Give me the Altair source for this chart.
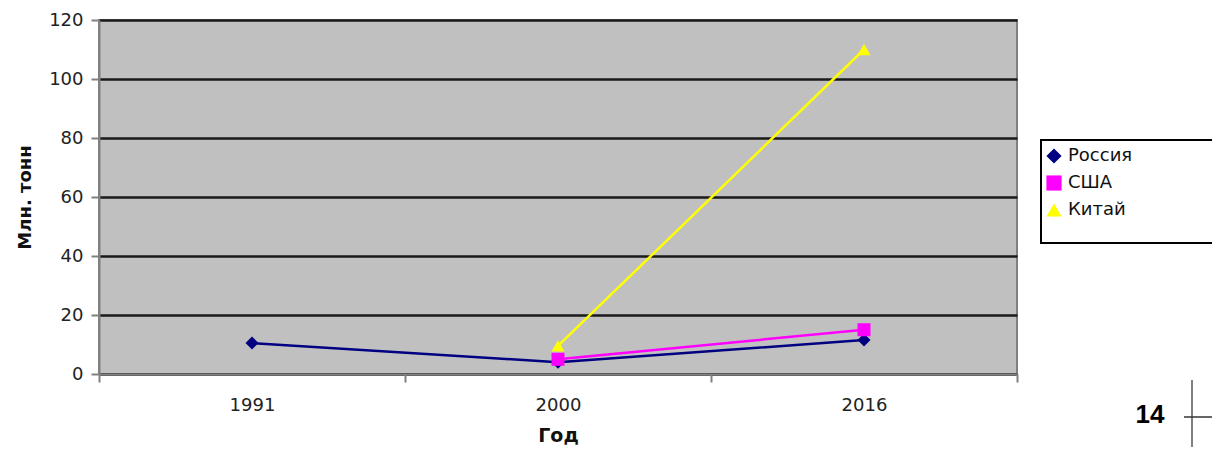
import altair as alt
import pandas as pd

years = ["1991", "2000", "2016"]
countries = ["Россия", "США", "Китай"]
russia = [10.5, 4.0, 11.5]
usa = [None, 5.0, 15.0]
china = [None, 9.5, 110.0]
colors = ["#000080", "#FF00FF", "#FFFF00"]
shapes = ["diamond", "square", "triangle-up"]
y_ticks = [0, 20, 40, 60, 80, 100, 120]

rows = []
for name, vals in zip(countries, [russia, usa, china]):
    for yr, v in zip(years, vals):
        if v is not None:
            rows.append({"Год": yr, "Страна": name, "Значение": v})
df = pd.DataFrame(rows)

FONT = "DejaVu Sans"
W, H = 918, 354

x_enc = alt.X("Год:O", sort=years,
              scale=alt.Scale(domain=years, type="band", paddingInner=0, paddingOuter=0),
              axis=alt.Axis(title="Год", labelAngle=0, tickBand="extent", domainColor="#808080",
                            domainWidth=2, tickColor="#808080", tickWidth=2, tickSize=8,
                            labelFontSize=18, labelColor="#222222", labelPadding=14, labelFont=FONT,
                            titleFont=FONT, titleFontSize=19, titleFontWeight="bold",
                            titleColor="#111111", titlePadding=12, grid=False))
y_enc = alt.Y("Значение:Q",
              scale=alt.Scale(domain=[0, 120], nice=False),
              axis=alt.Axis(title="Млн. тонн", values=y_ticks, domainColor="#808080", domainWidth=2,
                            tickColor="#808080", tickWidth=2, tickSize=8,
                            labelFontSize=18, labelColor="#222222", labelPadding=8, labelFont=FONT,
                            titleFont=FONT, titleFontSize=18, titleFontWeight="bold",
                            titleColor="#111111", titlePadding=14,
                            grid=True, gridColor="#1a1a1a", gridWidth=2.5))
color_enc = alt.Color("Страна:N", sort=countries,
                      scale=alt.Scale(domain=countries, range=colors),
                      legend=alt.Legend(title=None, orient="none", legendX=946, legendY=127,
                                        labelFont=FONT, labelFontSize=18, labelColor="#111111",
                                        symbolSize=230, symbolStrokeWidth=0, rowPadding=9,
                                        labelOffset=5))
shape_enc = alt.Shape("Страна:N", sort=countries,
                      scale=alt.Scale(domain=countries, range=shapes))

lines = alt.Chart(df).mark_line(strokeWidth=2.5).encode(
    x=x_enc, y=y_enc, color=color_enc, detail="Страна:N")
points = alt.Chart(df).mark_point(filled=True, size=170, opacity=1).encode(
    x=x_enc, y=y_enc, color=color_enc, shape=shape_enc)

legend_box = alt.Chart(pd.DataFrame({"a": [0]})).mark_rect(
    fill="white", stroke="#000000", strokeWidth=2, clip=False).encode(
    x=alt.value(942), x2=alt.value(1130), y=alt.value(120), y2=alt.value(223))

page_num = alt.Chart(pd.DataFrame({"t": ["14"]})).mark_text(
    font="Liberation Sans", fontSize=26, fontWeight="bold", color="#000000").encode(
    x=alt.value(1051), y=alt.value(395), text="t:N")
vline = alt.Chart(pd.DataFrame({"a": [0]})).mark_rule(color="#808080", strokeWidth=2).encode(
    x=alt.value(1093), y=alt.value(360), y2=alt.value(440))
hline = alt.Chart(pd.DataFrame({"a": [0]})).mark_rule(color="#333333", strokeWidth=1.5).encode(
    x=alt.value(1085), x2=alt.value(1125), y=alt.value(397))

chart = alt.layer(legend_box, lines, points, page_num, vline, hline).properties(
    width=W, height=H,
    background="white",
    autosize=alt.AutoSizeParams(type="none"),
    padding={"left": 91, "top": 12, "right": 195, "bottom": 73},
).configure_view(fill="#C0C0C0", stroke="#808080", strokeWidth=2)

chart.save("out.html", embed_options={"renderer": "svg", "actions": False})
